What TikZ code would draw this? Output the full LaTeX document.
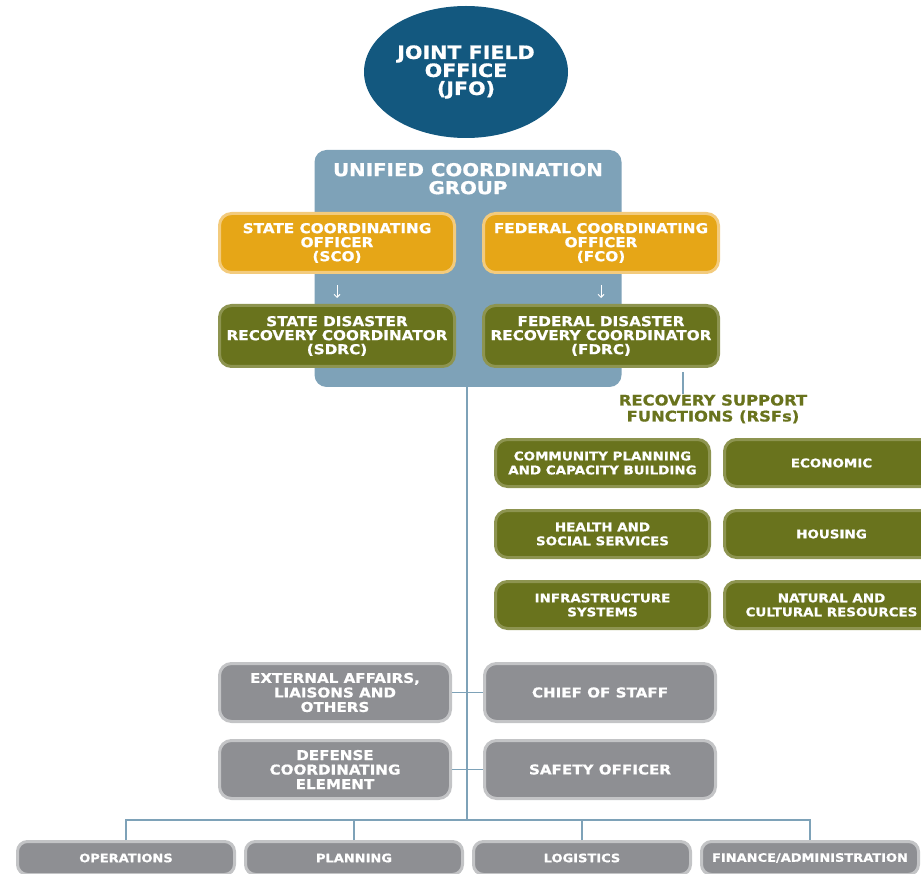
\documentclass[tikz,border=0pt]{standalone}
\usepackage{fontspec}
\setmainfont[FakeStretch=1.12, BoldFeatures={FakeStretch=1.12, FakeBold=0.8}]{DejaVu Sans}
\usetikzlibrary{positioning,shapes.geometric,arrows.meta}
\definecolor{jfoblue}{HTML}{13587F}
\definecolor{ucgblue}{HTML}{7EA2B8}
\definecolor{sco}{HTML}{E6A617}
\definecolor{scoedge}{HTML}{F3CB7D}
\definecolor{olive}{HTML}{69731D}
\definecolor{oliveedge}{HTML}{8D9450}
\definecolor{staff}{HTML}{8E8F93}
\definecolor{staffedge}{HTML}{C3C4C6}

\begin{document}
\begin{tikzpicture}[x=1pt,y=-1pt,
  box/.style={rounded corners=12pt, line width=3pt, align=center, text=white,
    inner sep=0pt, font=\bfseries\fontsize{13.6}{14}\selectfont},
  officer/.style={box, fill=sco, draw=scoedge, minimum width=235pt, minimum height=59pt},
  coord/.style={box, fill=olive, draw=oliveedge, minimum width=235pt, minimum height=61pt},
  rsfbox/.style={box, fill=olive, draw=oliveedge, minimum width=214pt, minimum height=47pt,
    font=\bfseries\fontsize{12}{14}\selectfont},
  staffbox/.style={box, fill=staff, draw=staffedge, minimum width=231pt, minimum height=58pt,
    font=\bfseries\fontsize{13.5}{14.5}\selectfont},
  section/.style={box, fill=staff, draw=staffedge, minimum width=217pt, minimum height=33pt,
    rounded corners=10pt, font=\bfseries\fontsize{11.6}{12}\selectfont},
  link/.style={draw=ucgblue, line width=1.4pt},
  tiny/.style={draw=white, line width=1pt, -{Straight Barb[length=3pt,width=6pt]}}]
  \useasboundingbox (0,0) rectangle (921,874);

  % joint field office and unified coordination group
  \node (jfo) [ellipse, fill=jfoblue, minimum width=204pt, minimum height=132pt, inner sep=0pt,
    align=center, text=white, font=\bfseries\fontsize{18.4}{18}\selectfont] at (466,72)
    {JOINT FIELD\\OFFICE\\(JFO)};
  \node (ucg) [fill=ucgblue, rounded corners=12pt, minimum width=307pt, minimum height=237pt] at (468,268.5) {};
  \node (ucgtitle) [below=13pt of ucg.north, align=center, text=white, inner sep=0pt,
    font=\bfseries\fontsize{17.7}{18}\selectfont] {UNIFIED COORDINATION\\GROUP};

  \node (sco)  [officer] at (337,243) {STATE COORDINATING\\OFFICER\\(SCO)};
  \node (fco)  [officer] at (601,243) {FEDERAL COORDINATING\\OFFICER\\(FCO)};
  \node (sdrc) [coord]   at (337,336) {STATE DISASTER\\RECOVERY COORDINATOR\\(SDRC)};
  \node (fdrc) [coord]   at (601,336) {FEDERAL DISASTER\\RECOVERY COORDINATOR\\(FDRC)};
  \draw[tiny] (sco) edge[shorten <=11pt, shorten >=6pt] (sdrc)
              (fco) edge[shorten <=11pt, shorten >=6pt] (fdrc);

  % recovery support functions
  \node (rsf) [align=center, text=olive, inner sep=0pt, font=\bfseries\fontsize{14.6}{16}\selectfont]
    at (713,409) {RECOVERY SUPPORT\\FUNCTIONS (RSFs)};
  \node (cpcb)  [rsfbox] at (602.5,463) {COMMUNITY PLANNING\\AND CAPACITY BUILDING};
  \node (econ)  [rsfbox, right=12pt of cpcb] {ECONOMIC};
  \node (hss)   [rsfbox, below=21pt of cpcb] {HEALTH AND\\SOCIAL SERVICES};
  \node (hous)  [rsfbox, right=12pt of hss] {HOUSING};
  \node (infra) [rsfbox, below=21pt of hss] {INFRASTRUCTURE\\SYSTEMS};
  \node (ncr)   [rsfbox, right=12pt of infra] {NATURAL AND\\CULTURAL RESOURCES};
  \coordinate (fdtap) at (683,372);
  \draw[link] (fdtap) -- (fdtap |- rsf.north);

  % staff
  \node (ext)    [staffbox] at (335,692.5) {EXTERNAL AFFAIRS,\\LIAISONS AND\\OTHERS};
  \node (cos)    [staffbox, right=31pt of ext] {CHIEF OF STAFF};
  \node (dce)    [staffbox, below=16pt of ext] {DEFENSE\\COORDINATING\\ELEMENT};
  \node (safety) [staffbox, right=31pt of dce] {SAFETY OFFICER};

  % general staff sections
  \coordinate (bus) at (467,820);
  \node (ops)  [section] at (126,858) {OPERATIONS};
  \node (plan) [section, right=8pt of ops] {PLANNING};
  \node (log)  [section, right=8pt of plan] {LOGISTICS};
  \node (fin)  [section, right=8pt of log] {FINANCE/ADMINISTRATION};

  \draw[link] (ucg.south -| bus) -- (bus);
  \draw[link] (ext) -- (cos) (dce) -- (safety);
  \draw[link] (ops.north) |- (bus) -| (fin.north);
  \draw[link] (plan.north) -- (plan.north |- bus);
  \draw[link] (log.north) -- (log.north |- bus);
\end{tikzpicture}
\end{document}
